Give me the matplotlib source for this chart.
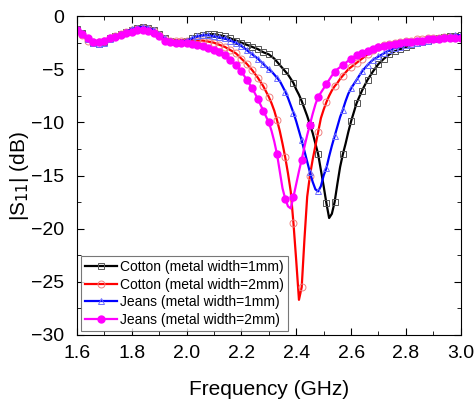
import numpy as np
import matplotlib
matplotlib.use("Agg")
from matplotlib import pyplot as plt
from matplotlib.ticker import MultipleLocator

plt.rcParams['font.family'] = ['Liberation Sans', 'DejaVu Sans']

# frequency grid (GHz): 0.02 steps, 0.01 steps around the resonances
freq = np.round(np.concatenate([np.arange(1.60, 2.29, 0.02),
                                np.arange(2.30, 2.605, 0.01),
                                np.arange(2.62, 3.005, 0.02)]), 3)

cotton_1mm = [-1.2, -1.6, -2.2, -2.5, -2.6, -2.4, -2.1, -1.9, -1.7, -1.5, -1.3, -1.1, -1.0, -1.1, -1.3, -1.7, -2.1, -2.3,
              -2.4, -2.4, -2.3, -2.1, -1.9, -1.8, -1.7, -1.7, -1.8, -1.9, -2.1, -2.3, -2.5, -2.7, -2.9, -3.1, -3.4,
              -3.6, -3.8, -4.0, -4.3, -4.6, -4.9, -5.2, -5.5, -5.9, -6.3, -6.9, -7.4, -8.0, -8.7, -9.4, -10.2,
              -11.0, -12.0, -13.0, -14.5, -16.0, -17.6, -19.0, -18.6, -17.5, -15.8, -14.2, -13.0, -12.0, -10.9, -9.9,
              -8.2, -7.0, -6.0, -5.2, -4.5, -4.0, -3.6, -3.3, -3.1, -2.9, -2.7, -2.5, -2.4, -2.3, -2.2, -2.1, -2.0,
              -1.9, -1.9, -1.8]

cotton_2mm = [-1.4, -1.8, -2.3, -2.4, -2.4, -2.3, -2.1, -1.9, -1.7, -1.5, -1.3, -1.2, -1.1, -1.2, -1.4, -1.8, -2.2, -2.3,
              -2.3, -2.3, -2.3, -2.3, -2.3, -2.3, -2.4, -2.5, -2.7, -2.9, -3.2, -3.5, -4.0, -4.5, -5.1, -5.8, -6.6,
              -7.6, -8.2, -8.9, -9.8, -10.8, -12.0, -13.3, -14.8, -16.5, -19.5, -23.0, -26.7, -25.5, -21.0, -17.0,
              -15.0, -13.5, -12.2, -10.9, -9.6, -8.8, -8.1, -7.5, -7.0, -6.6, -6.3, -5.9, -5.6, -5.3, -5.0, -4.8,
              -4.4, -4.0, -3.6, -3.2, -2.9, -2.7, -2.6, -2.5, -2.4, -2.3, -2.3, -2.2, -2.2, -2.1, -2.1, -2.1, -2.0,
              -2.0, -2.0, -2.0]

jeans_1mm = [-1.2, -1.6, -2.2, -2.5, -2.6, -2.5, -2.2, -1.9, -1.7, -1.5, -1.2, -1.1, -1.0, -1.1, -1.3, -1.7, -2.1, -2.3,
             -2.4, -2.4, -2.3, -2.1, -1.9, -1.8, -1.8, -1.9, -2.0, -2.1, -2.3, -2.5, -2.8, -3.2, -3.6, -4.0, -4.5,
             -5.0, -5.2, -5.5, -5.8, -6.1, -6.6, -7.1, -7.7, -8.4, -9.1, -9.9, -10.8, -11.7, -12.7, -13.7, -14.7,
             -15.6, -16.3, -16.5, -16.0, -15.0, -14.3, -13.2, -12.2, -11.3, -10.4, -9.5, -8.8, -8.0, -7.3, -6.8,
             -6.0, -5.2, -4.6, -4.1, -3.8, -3.5, -3.2, -3.0, -2.9, -2.7, -2.6, -2.5, -2.4, -2.3, -2.2, -2.1, -2.0,
             -1.9, -1.8, -1.8]

jeans_2mm = [-1.3, -1.7, -2.1, -2.4, -2.4, -2.3, -2.1, -2.0, -1.8, -1.6, -1.5, -1.3, -1.3, -1.4, -1.6, -1.9, -2.3, -2.4,
             -2.5, -2.5, -2.5, -2.6, -2.7, -2.8, -3.0, -3.2, -3.4, -3.7, -4.1, -4.6, -5.2, -6.0, -6.8, -7.8, -8.9,
             -10.0, -10.8, -11.8, -13.0, -14.6, -16.2, -17.2, -17.9, -18.1, -17.0, -15.8, -14.6, -13.5, -12.3,
             -11.2, -10.2, -9.2, -8.3, -7.6, -7.2, -6.8, -6.4, -6.0, -5.6, -5.3, -5.0, -4.8, -4.6, -4.4, -4.2, -4.0,
             -3.7, -3.5, -3.3, -3.1, -2.9, -2.8, -2.7, -2.6, -2.5, -2.4, -2.4, -2.3, -2.3, -2.2, -2.2, -2.2, -2.1,
             -2.1, -2.1, -2.1]

labels = ['Cotton (metal width=1mm)', 'Cotton (metal width=2mm)',
          'Jeans (metal width=1mm)', 'Jeans (metal width=2mm)']

# markers: every point on the coarse parts, every 3rd in the fine part
n_lo, n_mid = 35, 31
mk = list(range(0, n_lo)) + list(range(n_lo, n_lo + n_mid, 3)) + list(range(n_lo + n_mid, len(freq)))

fig = plt.figure(figsize=(4.77, 4.03), dpi=100)
ax = fig.add_axes([0.161, 0.169, 0.805, 0.791])

ax.plot(freq, cotton_1mm, color='black', lw=1.6, marker='s', ms=5, mfc='none',
        mec='#555555', mew=0.7, markevery=mk, label=labels[0])
ax.plot(freq, cotton_2mm, color='red', lw=1.6, marker='o', ms=5, mfc='none',
        mec='#f08080', mew=0.7, markevery=mk, label=labels[1])
ax.plot(freq, jeans_1mm, color='blue', lw=1.6, marker='^', ms=5, mfc='none',
        mec='#7070ff', mew=0.7, markevery=mk, label=labels[2])
ax.plot(freq, jeans_2mm, color='#ff00ff', lw=1.6, marker='o', ms=5, mfc='#ff00ff',
        mec='#ff00ff', markevery=mk, label=labels[3])

ax.set_xlim(1.6, 3.0)
ax.set_ylim(-30, 0)
ax.xaxis.set_minor_locator(MultipleLocator(0.1))
ax.yaxis.set_major_locator(MultipleLocator(5))
ax.yaxis.set_minor_locator(MultipleLocator(2.5))
ax.tick_params(which='both', direction='in', top=True, right=True, labelsize=14)
ax.tick_params(which='major', length=5)
ax.tick_params(which='minor', length=3)
ax.tick_params(axis='x', pad=7)
ax.tick_params(axis='y', pad=9)
ax.set_xticks(np.arange(1.6, 3.01, 0.2))
ax.set_xticklabels(['1.6', '1.8', '2.0', '2.2', '2.4', '2.6', '2.8', '3.0'])

ax.set_xlabel('Frequency (GHz)', fontsize=15, labelpad=13)
ax.set_ylabel('|S$_{11}$| (dB)', fontsize=15, labelpad=0)

leg = ax.legend(loc='lower left', fontsize=10, frameon=True, fancybox=False,
                handlelength=2.3, handletextpad=0.2, borderpad=0.3,
                labelspacing=0.25, borderaxespad=0.3)
leg.get_frame().set_edgecolor('#555555')
leg.get_frame().set_linewidth(0.8)

fig.savefig('out.png', dpi=100)
